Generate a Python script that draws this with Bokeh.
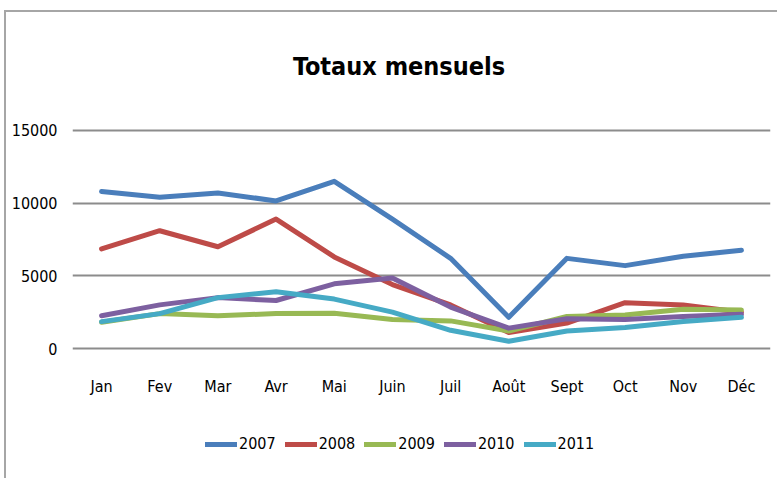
from bokeh.plotting import figure
from bokeh.layouts import column
from bokeh.models import Range1d, FixedTicker, Legend, LegendItem, Label
from bokeh.embed import file_html
from bokeh.resources import INLINE

months = ["Jan", "Fev", "Mar", "Avr", "Mai", "Juin", "Juil", "Août", "Sept", "Oct", "Nov", "Déc"]
years = ["2007", "2008", "2009", "2010", "2011"]
s2007 = [10800, 10400, 10700, 10150, 11500, 8900, 6200, 2150, 6200, 5700, 6350, 6750]
s2008 = [6850, 8100, 7000, 8900, 6300, 4400, 3000, 1100, 1750, 3150, 3000, 2500]
s2009 = [1800, 2400, 2250, 2400, 2430, 2000, 1900, 1200, 2200, 2300, 2700, 2650]
s2010 = [2250, 3000, 3500, 3300, 4450, 4850, 2850, 1400, 2050, 2000, 2200, 2350]
s2011 = [1850, 2400, 3500, 3900, 3400, 2500, 1250, 500, 1200, 1450, 1850, 2150]
series = [s2007, s2008, s2009, s2010, s2011]
y_ticks = [0, 5000, 10000, 15000]
title_text = "Totaux mensuels"
colors = ["#4a7ebb", "#be4b48", "#98b954", "#7d60a0", "#46aac5"]

FONT = "DejaVu Sans Condensed, Liberation Sans, sans-serif"

p = figure(width=771, height=399, x_range=months, y_range=Range1d(-206, 23109),
           output_backend="svg", toolbar_location=None,
           min_border_left=66, min_border_right=7, min_border_top=0, min_border_bottom=60)
p.outline_line_color = None
p.background_fill_color = "white"
p.border_fill_color = "white"

p.xgrid.grid_line_color = None
p.ygrid.ticker = FixedTicker(ticks=y_ticks)
p.ygrid.grid_line_color = "#8c8c8c"
p.ygrid.grid_line_width = 2

p.yaxis.ticker = FixedTicker(ticks=y_ticks)
for ax in (p.xaxis[0], p.yaxis[0]):
    ax.axis_line_color = None
    ax.major_tick_line_color = None
    ax.minor_tick_line_color = None
    ax.major_tick_out = 0
    ax.major_tick_in = 0
    ax.minor_tick_out = 0
    ax.major_label_text_font = FONT
    ax.major_label_text_font_size = "16px"
    ax.major_label_text_color = "#000000"
p.yaxis.major_label_standoff = 15
p.xaxis.major_label_standoff = 25

for s, c in zip(series, colors):
    p.line(months, s, line_color=c, line_width=5, line_join="round", line_cap="round")

title = Label(x=5.613, y=19396, text=title_text, text_align="center", text_baseline="middle",
              text_font=FONT, text_font_size="25px", text_font_style="bold", text_color="#000000")
p.add_layout(title)

# legend strip (its lines lie outside its visible range; only the legend shows)
p2 = figure(width=771, height=67, x_range=p.x_range, y_range=Range1d(0, 1),
            output_backend="svg", toolbar_location=None,
            x_axis_location=None, y_axis_location=None,
            min_border_left=66, min_border_right=7, min_border_top=0, min_border_bottom=0)
p2.outline_line_color = None
p2.grid.grid_line_color = None
p2.background_fill_color = "white"
p2.border_fill_color = "white"

items = []
for yr, s, c in zip(years, series, colors):
    r = p2.line(months, s, line_color=c, line_width=5, line_cap="round")
    items.append(LegendItem(label=yr, renderers=[r]))

legend = Legend(items=items, orientation="horizontal", location=(133, 25))
legend.background_fill_alpha = 0
legend.border_line_color = None
legend.padding = 0
legend.margin = 0
legend.glyph_width = 32
legend.glyph_height = 16
legend.label_standoff = 2
legend.spacing = 9
legend.label_text_font = FONT
legend.label_text_font_size = "16px"
legend.label_text_color = "#000000"
p2.add_layout(legend, "center")

lay = column(p, p2, spacing=0)
lay.styles = {"border-left": "2px solid #a6a6a6", "border-top": "2px solid #a6a6a6",
              "margin-left": "4px", "margin-top": "10px"}

open("out.html", "w").write(file_html(lay, INLINE))
